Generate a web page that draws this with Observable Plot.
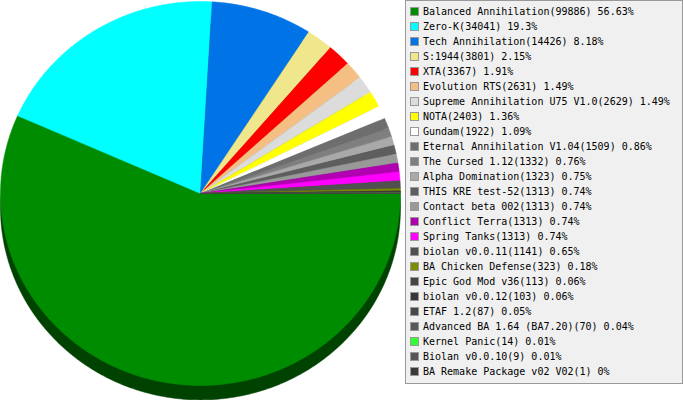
<!DOCTYPE html>
<html><head><meta charset="utf-8">
<script src="https://cdn.jsdelivr.net/npm/d3@7"></script>
<script src="https://cdn.jsdelivr.net/npm/@observablehq/plot@0.6"></script>
<style>
body{margin:0;background:#fff;}
#wrap{position:relative;width:683px;height:400px;overflow:hidden;}
#legend{position:absolute;left:405px;top:0;width:276px;height:382px;background:#f0f0f0;border:1px solid #999;font-family:"DejaVu Sans Mono",monospace;font-size:10px;color:#000;}
.row{position:absolute;left:4px;height:15px;display:flex;align-items:center;white-space:nowrap;}
.sw{width:7px;height:7px;border:1px solid #999;margin-right:4px;}
</style></head>
<body><div id="wrap"><div id="chart"></div><div id="legend"></div></div>
<script>
const names = ["Balanced Annihilation","Zero-K","Tech Annihilation","S:1944","XTA","Evolution RTS","Supreme Annihilation U75 V1.0","NOTA","Gundam","Eternal Annihilation V1.04","The Cursed 1.12","Alpha Domination","THIS KRE test-52","Contact beta 002","Conflict Terra","Spring Tanks","biolan v0.0.11","BA Chicken Defense","Epic God Mod v36","biolan v0.0.12","ETAF 1.2","Advanced BA 1.64 (BA7.20)","Kernel Panic","Biolan v0.0.10","BA Remake Package v02 V02"];
const counts = [99886,34041,14426,3801,3367,2631,2629,2403,1922,1509,1332,1323,1313,1313,1313,1313,1141,323,113,103,87,70,14,9,1];
const percents = ["56.63%","19.3%","8.18%","2.15%","1.91%","1.49%","1.49%","1.36%","1.09%","0.86%","0.76%","0.75%","0.74%","0.74%","0.74%","0.74%","0.65%","0.18%","0.06%","0.06%","0.05%","0.04%","0.01%","0.01%","0%"];
const colors = ["#008c00","#00ffff","#0073e6","#f0e68c","#ff0000","#f5be82","#dcdcdc","#ffff00","#ffffff","#6e6e6e","#7f7f7f","#a9a9a9","#5e5e5e","#999999","#b000b0","#ff00ff","#505050","#7f8c00","#444444","#383838","#484848","#5a5a5a","#33ff33","#555555","#3a3a3a"];
const wallColor = "#004200";
const depth = 0.075;

const total = d3.sum(counts);
const pts = [];
// wall (shifted ellipse) drawn first
for (let k = 0; k <= 360; k++) {
  const a = k * Math.PI / 180;
  pts.push({slice: "wall", color: wallColor, x: Math.cos(a), y: Math.sin(a) + depth});
}
let cum = 0;
names.forEach((n, i) => {
  const a0 = cum / total * 2 * Math.PI;
  cum += counts[i];
  const a1 = cum / total * 2 * Math.PI;
  const steps = Math.max(2, Math.ceil((a1 - a0) / (Math.PI / 360)));
  pts.push({slice: n, color: colors[i], x: 0, y: 0});
  for (let s = 0; s <= steps; s++) {
    const a = a0 + (a1 - a0) * s / steps;
    pts.push({slice: n, color: colors[i], x: Math.cos(a), y: Math.sin(a)});
  }
  pts.push({slice: n, color: colors[i], x: 0, y: 0});
});

const plot = Plot.plot({
  width: 683, height: 400,
  margin: 0,
  x: {domain: [-1, 1], range: [0, 400], axis: null},
  y: {domain: [-1, 1], range: [1, 385], axis: null},
  marks: [
    Plot.line(pts, {x: "x", y: "y", z: "slice", fill: "color", stroke: "color", strokeWidth: 0.5, curve: "linear"})
  ]
});
document.getElementById("chart").appendChild(plot);

const leg = document.getElementById("legend");
names.forEach((n, i) => {
  const r = document.createElement("div");
  r.className = "row";
  r.style.top = (3 + 15 * i) + "px";
  r.innerHTML = `<span class="sw" style="background:${colors[i]}"></span><span>${n}(${counts[i]}) ${percents[i]}</span>`;
  leg.appendChild(r);
});
</script>
</body></html>
